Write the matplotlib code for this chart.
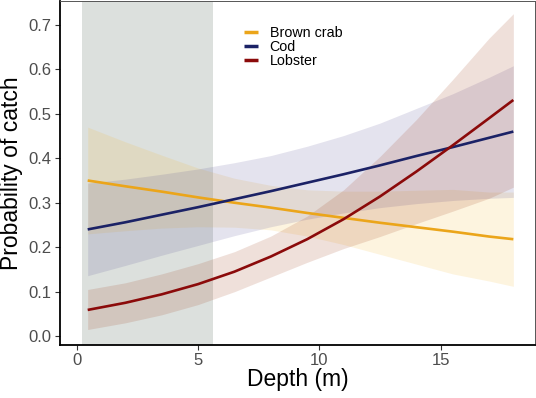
import numpy as np
import matplotlib
matplotlib.use('Agg')
import matplotlib.pyplot as plt

plt.rcParams['font.family'] = ['Liberation Sans', 'DejaVu Sans']

depth = [0.45, 2, 3.5, 5, 6.5, 8, 9.5, 11, 12.5, 14, 15.5, 17, 18]

crab_fit = [0.350, 0.337, 0.325, 0.312, 0.300, 0.289, 0.277, 0.266, 0.255, 0.245, 0.235, 0.224, 0.218]
crab_lo = [0.230, 0.237, 0.243, 0.246, 0.245, 0.239, 0.225, 0.206, 0.184, 0.162, 0.140, 0.124, 0.112]
crab_hi = [0.470, 0.437, 0.407, 0.378, 0.355, 0.339, 0.329, 0.326, 0.326, 0.328, 0.330, 0.324, 0.324]

cod_fit = [0.240, 0.256, 0.273, 0.290, 0.308, 0.326, 0.345, 0.364, 0.384, 0.405, 0.425, 0.446, 0.460]
cod_lo = [0.136, 0.159, 0.182, 0.204, 0.226, 0.246, 0.263, 0.277, 0.289, 0.298, 0.305, 0.310, 0.312]
cod_hi = [0.344, 0.353, 0.364, 0.376, 0.390, 0.406, 0.427, 0.451, 0.479, 0.512, 0.545, 0.582, 0.608]

lob_fit = [0.059, 0.075, 0.094, 0.117, 0.145, 0.179, 0.218, 0.263, 0.314, 0.370, 0.429, 0.490, 0.531]
lob_lo = [0.015, 0.030, 0.048, 0.071, 0.100, 0.133, 0.166, 0.197, 0.224, 0.253, 0.281, 0.310, 0.335]
lob_hi = [0.105, 0.120, 0.140, 0.163, 0.190, 0.225, 0.270, 0.329, 0.404, 0.487, 0.577, 0.670, 0.725]

species = ['Brown crab', 'Cod', 'Lobster']
line_cols = ['#EBA51A', '#1B2266', '#8B0A0A']
fill_cols = ['#F5B72A', '#5A5296', '#A0401E']
fill_alpha = [0.15, 0.16, 0.16]

shade_from, shade_to = 0.2, 5.6

fig = plt.figure(figsize=(5.36, 3.98), dpi=100)
ax = fig.add_axes([0.112, 0.133, 0.886, 0.865])

ax.axvspan(shade_from, shade_to, color='#DCE0DD', zorder=0, lw=0)

fits = [crab_fit, cod_fit, lob_fit]
los = [crab_lo, cod_lo, lob_lo]
his = [crab_hi, cod_hi, lob_hi]
for i in range(3):
    ax.fill_between(depth, los[i], his[i], color=fill_cols[i], alpha=fill_alpha[i], lw=0, zorder=1)
for i in range(3):
    ax.plot(depth, fits[i], color=line_cols[i], lw=1.9, label=species[i], zorder=3,
            solid_capstyle='butt')

ax.set_xlim(-0.69, 18.89)
ax.set_ylim(-0.02, 0.754)
ax.set_xticks([0, 5, 10, 15])
ax.set_yticks([0.0, 0.1, 0.2, 0.3, 0.4, 0.5, 0.6, 0.7])
ax.set_yticklabels(['0.0', '0.1', '0.2', '0.3', '0.4', '0.5', '0.6', '0.7'])
ax.tick_params(labelsize=12, labelcolor='#4D4D4D', color='#333333', length=3.5, width=0.8, pad=2.5)

for s in ['left', 'bottom']:
    ax.spines[s].set_color('black')
    ax.spines[s].set_linewidth(1.3)
for s in ['top', 'right']:
    ax.spines[s].set_color('#555555')
    ax.spines[s].set_linewidth(0.7)

ax.set_xlabel('Depth (m)', fontsize=16.5, labelpad=0)
ax.set_ylabel('Probability of catch', fontsize=16.5, labelpad=4)

leg = ax.legend(loc='upper left', bbox_to_anchor=(0.36, 0.965), frameon=False,
                fontsize=10.3, handlelength=1.0, handletextpad=0.8, labelspacing=0.0)
for h in leg.get_lines():
    h.set_linewidth(2.5)

fig.savefig('out.png', dpi=100)
